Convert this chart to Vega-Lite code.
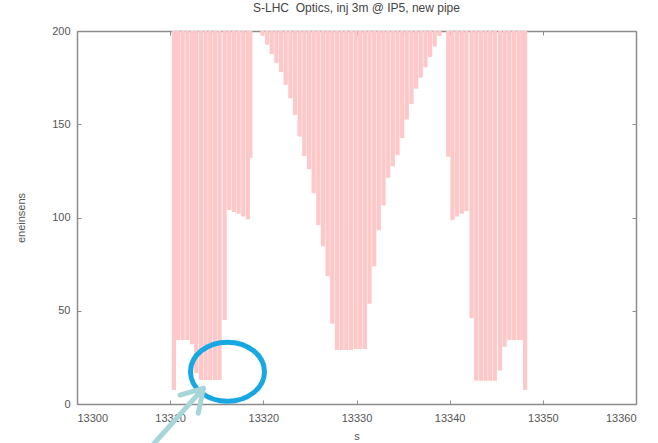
{
  "$schema": "https://vega.github.io/schema/vega-lite/v6.json",
  "width": 559,
  "height": 373,
  "autosize": {"type": "none"},
  "padding": {"left": 77, "top": 31, "right": 22, "bottom": 39},
  "background": "white",
  "title": {"text": "S-LHC\u00a0 Optics, inj 3m @ IP5, new pipe", "font": "Liberation Sans", "fontSize": 12, "fontWeight": "normal", "color": "#444444", "anchor": "middle", "offset": 10},
  "config": {
    "view": {"stroke": null},
    "axis": {"domainColor": "#8c8c8c", "domainWidth": 1.5, "tickColor": "#8c8c8c", "tickSize": -4, "tickWidth": 1, "labelFont": "Liberation Sans", "labelFontSize": 11, "labelColor": "#555555", "titleFont": "Liberation Sans", "titleFontSize": 11, "titleFontWeight": "normal", "titleColor": "#555555", "grid": false, "zindex": 1}
  },
  "datasets": {
    "bars": [
      {"s": 13310.4, "aper": 7.5}, {"s": 13310.85, "aper": 34.3}, {"s": 13311.35, "aper": 34.3}, {"s": 13311.85, "aper": 34.3}, {"s": 13312.35, "aper": 32}, {"s": 13312.8, "aper": 16.6}, {"s": 13313.3, "aper": 12.9}, {"s": 13313.8, "aper": 12.9}, {"s": 13314.3, "aper": 12.9}, {"s": 13314.8, "aper": 12.9}, {"s": 13315.3, "aper": 12.9}, {"s": 13315.85, "aper": 45}, {"s": 13316.35, "aper": 104}, {"s": 13316.85, "aper": 103}, {"s": 13317.35, "aper": 102}, {"s": 13317.85, "aper": 100.5}, {"s": 13318.35, "aper": 99}, {"s": 13318.6, "aper": 132},
      {"s": 13319.9, "aper": 197.5}, {"s": 13320.4, "aper": 192.6}, {"s": 13320.9, "aper": 187.7}, {"s": 13321.4, "aper": 182.9}, {"s": 13321.9, "aper": 178}, {"s": 13322.4, "aper": 171.1}, {"s": 13322.9, "aper": 163.9}, {"s": 13323.4, "aper": 155}, {"s": 13323.9, "aper": 143.4}, {"s": 13324.4, "aper": 132.9}, {"s": 13324.9, "aper": 125.9}, {"s": 13325.4, "aper": 113}, {"s": 13325.9, "aper": 96}, {"s": 13326.4, "aper": 84.6}, {"s": 13326.9, "aper": 68.5}, {"s": 13327.4, "aper": 43}, {"s": 13327.9, "aper": 29}, {"s": 13328.4, "aper": 29}, {"s": 13328.9, "aper": 29}, {"s": 13329.4, "aper": 29}, {"s": 13329.9, "aper": 29.5}, {"s": 13330.4, "aper": 29.5}, {"s": 13330.9, "aper": 29.5}, {"s": 13331.4, "aper": 53.8}, {"s": 13331.9, "aper": 73.9}, {"s": 13332.4, "aper": 93.1}, {"s": 13332.9, "aper": 106.4}, {"s": 13333.4, "aper": 121.3}, {"s": 13333.9, "aper": 127.5}, {"s": 13334.4, "aper": 133.4}, {"s": 13334.9, "aper": 142.6}, {"s": 13335.4, "aper": 152.5}, {"s": 13335.9, "aper": 160.8}, {"s": 13336.4, "aper": 169.1}, {"s": 13336.9, "aper": 175}, {"s": 13337.4, "aper": 180.6}, {"s": 13337.9, "aper": 186.1}, {"s": 13338.4, "aper": 191.7}, {"s": 13338.9, "aper": 197.3},
      {"s": 13339.85, "aper": 132.6}, {"s": 13340.3, "aper": 98.7}, {"s": 13340.8, "aper": 100.5}, {"s": 13341.3, "aper": 102}, {"s": 13341.8, "aper": 103.5}, {"s": 13342.35, "aper": 46}, {"s": 13342.85, "aper": 12.5}, {"s": 13343.35, "aper": 12.5}, {"s": 13343.85, "aper": 12.5}, {"s": 13344.35, "aper": 12.5}, {"s": 13344.85, "aper": 12.5}, {"s": 13345.4, "aper": 18}, {"s": 13345.9, "aper": 30.7}, {"s": 13346.4, "aper": 34.3}, {"s": 13346.9, "aper": 34.3}, {"s": 13347.4, "aper": 34.3}, {"s": 13347.85, "aper": 34.3}, {"s": 13348.1, "aper": 7.5}
    ],
    "ring": [{"s": 13316.15, "v": 17.3}],
    "arrow": [
      {"s1": 13308.2, "v1": -21.6, "s2": 13313.56, "v2": 8.4},
      {"s1": 13311.06, "v1": 4.8, "s2": 13313.56, "v2": 8.4},
      {"s1": 13313.02, "v1": -5.0, "s2": 13313.56, "v2": 8.4}
    ]
  },
  "layer": [
    {
      "data": {"name": "bars"},
      "mark": {"type": "rule", "color": "#ffc8c8", "strokeWidth": 4.2, "strokeCap": "butt"},
      "encoding": {
        "x": {"field": "s", "type": "quantitative", "scale": {"domain": [13300, 13360], "nice": false, "zero": false},
              "axis": {"orient": "bottom", "title": "s", "values": [13300, 13310, 13320, 13330, 13340, 13350, 13360], "format": "d", "labelPadding": 12, "titlePadding": 7}},
        "y": {"field": "aper", "type": "quantitative", "scale": {"domain": [0, 200], "nice": false, "zero": true},
              "axis": {"orient": "left", "title": "eneinsens", "values": [0, 50, 100, 150, 200], "labelPadding": 11, "titlePadding": 25}},
        "y2": {"datum": 200}
      }
    },
    {
      "data": {"name": "ring"},
      "mark": {"type": "point", "shape": "M-1,0A1,0.8,0,1,1,1,0A1,0.8,0,1,1,-1,0Z", "size": 5476, "filled": false, "stroke": "#17a8e3", "strokeWidth": 5, "opacity": 1},
      "encoding": {
        "x": {"field": "s", "type": "quantitative", "axis": {"orient": "top", "labels": false, "title": null, "values": [13300, 13310, 13320, 13330, 13340, 13350, 13360]}},
        "y": {"field": "v", "type": "quantitative", "axis": {"orient": "right", "labels": false, "title": null, "values": [0, 50, 100, 150, 200]}}
      }
    },
    {
      "data": {"name": "arrow"},
      "mark": {"type": "rule", "color": "#a8d5d8", "strokeWidth": 5, "strokeCap": "round"},
      "encoding": {
        "x": {"field": "s1", "type": "quantitative", "axis": null},
        "y": {"field": "v1", "type": "quantitative", "axis": null},
        "x2": {"field": "s2"},
        "y2": {"field": "v2"}
      }
    }
  ],
  "resolve": {"axis": {"x": "independent", "y": "independent"}}
}
